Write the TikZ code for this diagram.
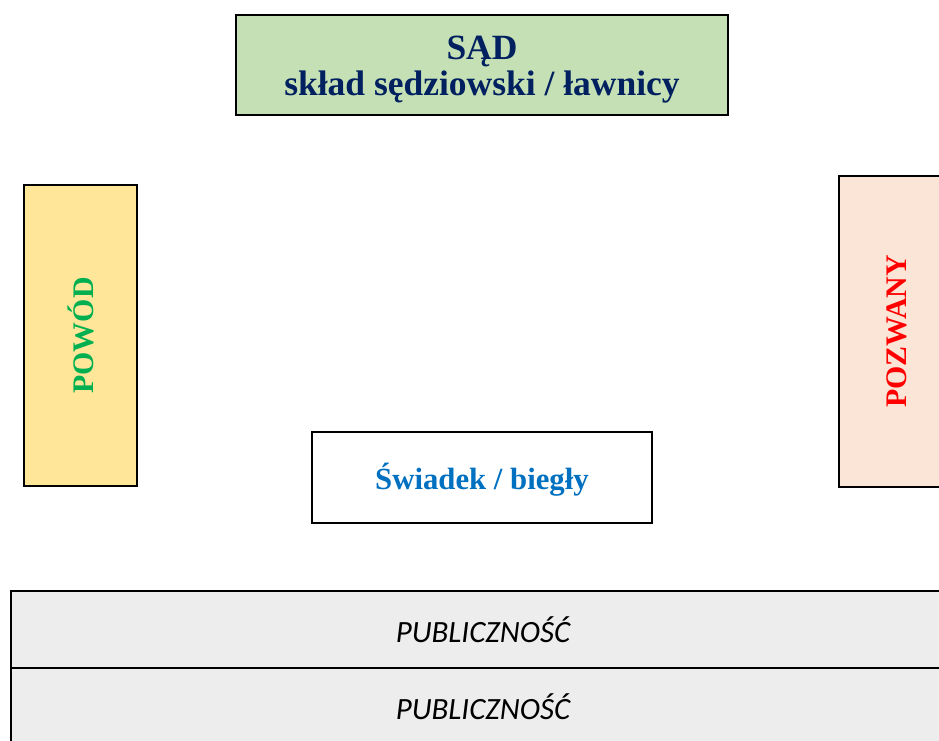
\documentclass[tikz,border=0pt]{standalone}
\usepackage{fontspec}
\setmainfont{Liberation Serif}
\newfontfamily\publfont{Carlito}
\usetikzlibrary{positioning}
\definecolor{sadfill}{HTML}{C5E0B4}
\definecolor{sadtext}{HTML}{002060}
\definecolor{powodfill}{HTML}{FFE699}
\definecolor{powodtext}{HTML}{00B050}
\definecolor{pozwanyfill}{HTML}{FBE5D6}
\definecolor{swiadektext}{HTML}{0070C0}
\definecolor{publfill}{HTML}{EDEDED}

\begin{document}
\begin{tikzpicture}[x=0.02cm,y=-0.02cm,every node/.style={outer sep=0pt,inner sep=0pt},
    box/.style={draw,line width=1.4pt},
    label/.style={align=center,font=\bfseries\fontsize{17}{18}\selectfont},
    publ/.style={draw,line width=1.4pt,fill=publfill,minimum width=18.88cm,
    minimum height=1.54cm,font=\publfont\itshape\fontsize{17.6}{20}\selectfont}]
    \useasboundingbox (0,0) rectangle (939,740);
    \clip (0,0) rectangle (939,740);

    \node[box,fill=sadfill,minimum width=9.84cm,minimum height=2cm] (sad) at (482,65) {};
    \node[label,text=sadtext,font=\bfseries\fontsize{20.2}{20.5}\selectfont,
    yshift=-0.09cm] (sadtxt) at (sad.center) {SĄD\\skład sędziowski / ławnicy};

    \node[box,fill=powodfill,minimum width=2.26cm,minimum height=6.02cm]
    (powod) at (80.5,335.5) {};
    \node[label,rotate=90,text=powodtext] (powodtxt) at (powod.center) {POWÓD};

    \node[box,fill=pozwanyfill,minimum width=2.32cm,minimum height=6.22cm]
    (pozwany) at (897,331.5) {};
    \node[label,rotate=90,text=red] (pozwanytxt) at (pozwany.center) {POZWANY};

    \node[box,fill=white,minimum width=6.8cm,minimum height=1.82cm]
    (swiadek) at (482,477.5) {};
    \node[label,text=swiadektext,font=\bfseries\fontsize{17.5}{18}\selectfont,
    yshift=-0.04cm] (swiadektxt) at (swiadek.center) {Świadek / biegły};

    \node[publ] (publ1) at (483,629.5) {PUBLICZNOŚĆ};
    \node[publ,below=0pt of publ1] (publ2) {PUBLICZNOŚĆ};
\end{tikzpicture}
\end{document}
